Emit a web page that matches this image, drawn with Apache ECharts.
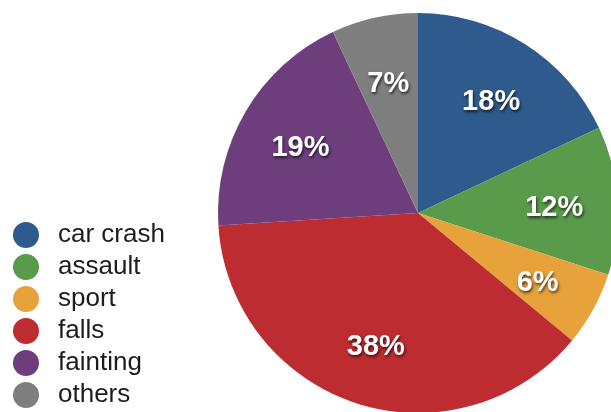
<!DOCTYPE html>
<html>
<head>
<meta charset="utf-8">
<style>
  html, body { margin: 0; padding: 0; background: #ffffff; }
  #chart { width: 611px; height: 412px; }
</style>
<script src="https://cdn.jsdelivr.net/npm/echarts@6/dist/echarts.min.js"></script>
</head>
<body>
<div id="chart"></div>
<script>
// Injury causes and their share (percent)
const categories = ['car crash', 'assault', 'sport', 'falls', 'fainting', 'others'];
const shares = [18, 12, 6, 38, 19, 7];
const colors = ['#2e5a8d', '#5a9a4b', '#e8a23c', '#bd2c31', '#6e3e7c', '#7f7f7f'];

const chart = echarts.init(document.getElementById('chart'), null, { renderer: 'canvas' });

const sliceData = categories.map((name, i) => ({
  name: name,
  value: shares[i],
  itemStyle: { color: colors[i] }
}));

// Transparent ring used only to place the percentage labels further out from the centre
const labelData = categories.map((name, i) => ({
  name: name,
  value: shares[i],
  itemStyle: { color: 'rgba(0,0,0,0)' }
}));

chart.setOption({
  animation: false,
  legend: {
    orient: 'vertical',
    left: 13,
    top: 222,
    height: 200,
    padding: 0,
    icon: 'circle',
    itemWidth: 26,
    itemHeight: 26,
    itemGap: 6,
    selectedMode: false,
    data: categories,
    textStyle: {
      fontFamily: 'Liberation Sans, Helvetica, Arial, sans-serif',
      fontSize: 26,
      lineHeight: 26,
      color: '#1c1c1c',
      padding: [0, 0, 0, 14]
    }
  },
  series: [
    {
      type: 'pie',
      center: [418, 213],
      radius: [0, 200],
      startAngle: 90,
      clockwise: true,
      silent: true,
      label: { show: false },
      labelLine: { show: false },
      data: sliceData
    },
    {
      type: 'pie',
      center: [418, 213],
      radius: [67, 200],
      startAngle: 90,
      clockwise: true,
      silent: true,
      legendHoverLink: false,
      label: {
        show: true,
        position: 'inside',
        formatter: '{c}%',
        offset: [0, 4],
        color: '#ffffff',
        fontFamily: 'Liberation Sans, Helvetica, Arial, sans-serif',
        fontWeight: 'bold',
        fontSize: 29,
        textShadowColor: 'rgba(0,0,0,0.65)',
        textShadowBlur: 3,
        textShadowOffsetX: 1,
        textShadowOffsetY: 2
      },
      labelLine: { show: false },
      data: labelData
    }
  ]
});
</script>
</body>
</html>
